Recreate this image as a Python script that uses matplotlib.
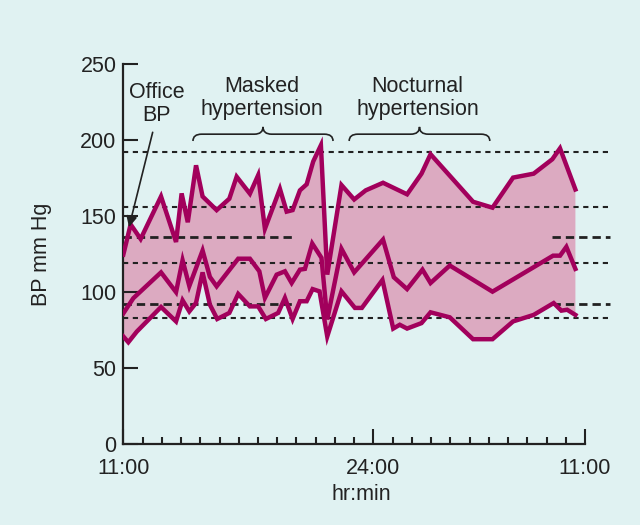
import matplotlib
matplotlib.use("Agg")
import matplotlib.pyplot as plt
from matplotlib.path import Path
from matplotlib.patches import PathPatch

# hours after 11:00, readings in mm Hg
sys_t = [0, 0.38, 0.9, 1.96, 2.74, 3.03, 3.35, 3.78, 4.12, 4.85, 5.51, 5.89, 6.58, 7.01,
         7.36, 8.14, 8.49, 8.8, 9.18, 9.53, 9.87, 10.27, 10.6, 11.34, 12.0, 12.6, 13.5,
         14.75, 15.5, 15.97, 18.18, 19.19, 20.26, 21.33, 22.3, 22.7, 23.5]
sys_bp = [124.7, 144.6, 135, 163, 133, 165, 146, 183.5, 163, 154, 161.5, 176, 164.8, 177,
          141.7, 168, 153, 154, 167, 171, 186, 196.7, 111.5, 170.5, 161, 167, 172,
          164.4, 178, 190.8, 159.5, 155.6, 175.4, 178, 187.5, 194.7, 167.6]

mean_t = [0, 0.52, 1.96, 2.74, 3.08, 3.43, 4.12, 4.5, 4.85, 5.97, 6.58, 7.07, 7.36, 7.97,
          8.4, 8.75, 9.18, 9.44, 9.82, 10.3, 10.6, 11.34, 12.0, 13.5, 14.06, 14.75, 15.55,
          15.97, 16.97, 19.19, 22.34, 22.7, 23.03, 23.5]
mean_bp = [86, 96, 113, 100, 121, 104, 127.4, 110, 103.8, 122, 122, 113.7, 96.2, 111.5,
           113.7, 106, 114.8, 115.3, 132, 122.6, 82, 128.5, 113, 134.6, 109.8, 102, 114.8,
           106, 117.5, 100.3, 124, 124, 129.8, 115.3]

dia_t = [0, 0.26, 0.7, 1.96, 2.74, 3.08, 3.43, 3.78, 4.12, 4.5, 4.88, 5.51, 5.97, 6.58,
         7.01, 7.41, 8.05, 8.4, 8.8, 9.18, 9.53, 9.84, 10.2, 10.6, 11.34, 12.04, 12.4,
         13.47, 14.03, 14.37, 14.75, 15.5, 15.97, 16.97, 18.18, 19.19, 20.26, 21.33,
         22.37, 22.77, 23.07, 23.5]
dia_bp = [70.8, 67, 74, 90.2, 80.7, 94.6, 87.3, 92.9, 113, 91.7, 82.3, 86.3, 98.8, 90.6,
          90.6, 82.3, 86.3, 96.2, 82.3, 94, 94, 102, 100.5, 70.8, 100.5, 89.6, 89.6,
          108, 76, 78.5, 76, 79.6, 86.7, 83.4, 69, 69, 80.7, 85,
          92.8, 87.8, 88.4, 85]

ref_levels = [192.5, 156, 119.3, 83]      # short dashed reference lines
office_levels = [136.6, 92.5]             # office BP (long dashes)

xtick_pos = [0, 13, 24]
xtick_labels = ["11:00", "24:00", "11:00"]
yticks = [0, 50, 100, 150, 200, 250]

bg = "#e0f2f2"
line_c = "#a2005c"
fill_c = "#dcaac1"
ink = "#222222"

plt.rcParams['font.family'] = ['Liberation Sans', 'DejaVu Sans']
plt.rcParams['font.size'] = 15.5

fig = plt.figure(figsize=(6.4, 5.25), dpi=100, facecolor=bg)
ax = fig.add_axes([0.1927, 0.1543, 0.7214, 0.7232], facecolor=bg)

# shaded band between systolic and diastolic
ax.fill(sys_t + dia_t[::-1], sys_bp + dia_bp[::-1], color=fill_c, lw=0, zorder=1)

for lev in ref_levels:
    ax.plot([0, 25.3], [lev, lev], color=ink, lw=1.5, ls=(0, (2.5, 2.2)),
            clip_on=False, zorder=2)
for lev in office_levels:
    ax.plot([0, 8.9], [lev, lev], color=ink, lw=2, ls=(0, (3, 1.8)), zorder=2)
    ax.plot([22.3, 25.3], [lev, lev], color=ink, lw=2, ls=(0, (3, 1.8)),
            clip_on=False, zorder=2)

for t, v in [(sys_t, sys_bp), (mean_t, mean_bp), (dia_t, dia_bp)]:
    ax.plot(t, v, color=line_c, lw=3.2, solid_joinstyle='miter', zorder=3)


def brace(x1, x2, y0, h1=4.5, h2=4.8, r=0.45):
    xm = (x1 + x2) / 2
    yb = y0 + h1
    verts = [(x1, y0), (x1, yb), (x1 + r, yb), (xm - r, yb), (xm, yb), (xm, yb + h2),
             (xm, yb), (xm + r, yb), (x2 - r, yb), (x2, yb), (x2, y0)]
    codes = [Path.MOVETO, Path.CURVE3, Path.CURVE3, Path.LINETO, Path.CURVE3, Path.CURVE3,
             Path.CURVE3, Path.CURVE3, Path.LINETO, Path.CURVE3, Path.CURVE3]
    ax.add_patch(PathPatch(Path(verts, codes), fc='none', ec=ink, lw=1.2))


brace(3.62, 10.9, 199.5)
brace(11.74, 19.05, 199.5)

ax.text(7.19, 228, "Masked\nhypertension", ha='center', va='center', color=ink,
        linespacing=1.1)
ax.text(15.3, 228, "Nocturnal\nhypertension", ha='center', va='center', color=ink,
        linespacing=1.1)
ax.text(1.75, 224, "Office\nBP", ha='center', va='center', color=ink, linespacing=1.1)
ax.annotate('', xy=(0.26, 141), xytext=(1.56, 207),
            arrowprops=dict(arrowstyle='-|>', color=ink, lw=1.2, mutation_scale=16))

ax.set_xlim(0, 24)
ax.set_ylim(0, 250)
for s in ['top', 'right']:
    ax.spines[s].set_visible(False)
for s in ['left', 'bottom']:
    ax.spines[s].set_linewidth(1.6)
    ax.spines[s].set_color(ink)

ax.set_xticks(xtick_pos)
ax.set_xticklabels(xtick_labels)
ax.set_xticks(range(25), minor=True)
ax.set_yticks(yticks)
ax.tick_params(axis='both', which='major', direction='in', length=11, width=1.5,
               color=ink, labelcolor=ink, labelsize=15.5)
ax.tick_params(axis='x', which='minor', direction='in', length=5, width=1.5, color=ink)
ax.tick_params(axis='x', which='major', pad=10)
ax.tick_params(axis='y', which='major', pad=5)

ax.set_xlabel("hr:min", color=ink, fontsize=15.5)
ax.xaxis.set_label_coords(0.515, -0.105)
ax.set_ylabel("BP mm Hg", color=ink, fontsize=15.5)
ax.yaxis.set_label_coords(-0.155, 0.5)

fig.savefig("out.png", dpi=100, facecolor=bg)
